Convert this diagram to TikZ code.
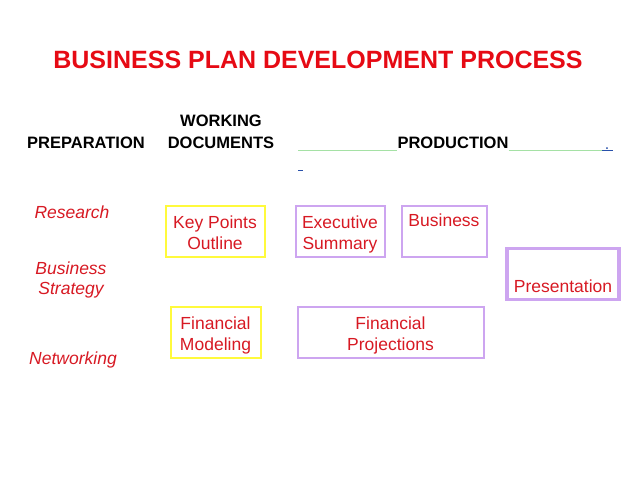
\documentclass[tikz,border=0pt]{standalone}
\usepackage{fontspec}
\setmainfont{Liberation Sans}
\usetikzlibrary{positioning}
\definecolor{titlered}{RGB}{230,10,20}
\definecolor{labelred}{RGB}{215,25,35}
\definecolor{boxyellow}{RGB}{255,250,60}
\definecolor{boxpurple}{RGB}{205,165,240}
\definecolor{rulegreen}{RGB}{165,225,165}
\definecolor{linkblue}{RGB}{40,80,170}

\begin{document}
\begin{tikzpicture}[x=1pt,y=-1pt,
    head/.style={font=\fontsize{16.5}{21.5}\selectfont\bfseries, align=center, inner sep=0pt},
    side/.style={font=\fontsize{17.5}{20.5}\selectfont\itshape, text=labelred, align=center, inner sep=0pt},
    docbox/.style={draw=boxyellow, line width=2pt, font=\fontsize{17.5}{21}\selectfont,
      text=labelred, align=center, inner sep=0pt, minimum height=51pt,
      text height=36pt, text depth=0pt},
    prodbox/.style={docbox, draw=boxpurple}]
    \useasboundingbox (0,0) rectangle (638,479);

    % title
    \node[font=\fontsize{25}{30}\selectfont\bfseries, text=titlered] (title) at (318,60)
      {BUSINESS PLAN DEVELOPMENT PROCESS};

    % column heads
    \node[head] (prep) at (86,143) {PREPARATION};
    \node[head] (work) at (221,132) {WORKING\\DOCUMENTS};
    \node[head] (prod) at (453,143) {PRODUCTION};

    % rules round the production head
    \coordinate (gl) at (298,150);
    \coordinate (gr) at (602,150);
    \draw[rulegreen, line width=0.8pt] (gl) -- (gl -| prod.west);
    \draw[rulegreen, line width=0.8pt] (gr -| prod.east) -- (gr);
    \node[text=linkblue, font=\fontsize{16}{16}\selectfont, inner sep=0pt, anchor=base] (dot) at (607,149) {.};
    \draw[linkblue, line width=0.8pt] (gr) -- ++(11,0);
    \draw[linkblue, line width=0.8pt] (298,170) -- ++(5,0);

    % preparation
    \node[side] (research) at (72,212) {Research};
    \node[side] (strategy) at (71,280) {Business\\Strategy};
    \node[side] (network) at (73,360) {Networking};

    % working documents
    \node[docbox, minimum width=99pt] (keypts) at (215,231) {Key Points\\Outline};
    \node[docbox, minimum width=90pt] (finmod) at (215.5,332) {Financial\\Modeling};

    % production
    \node[prodbox, minimum width=89pt] (execsum) at (340,231) {Executive\\Summary};
    \node[prodbox, minimum width=85pt, text depth=4pt] (busplan) at (444,231) {Business\\\strut};
    \node[prodbox, minimum width=112pt, line width=3.5pt] (present) at (563,274) {\strut\\Presentation};
    \node[prodbox, minimum width=186pt] (finproj) at (390.5,332) {Financial\\Projections};
\end{tikzpicture}
\end{document}
